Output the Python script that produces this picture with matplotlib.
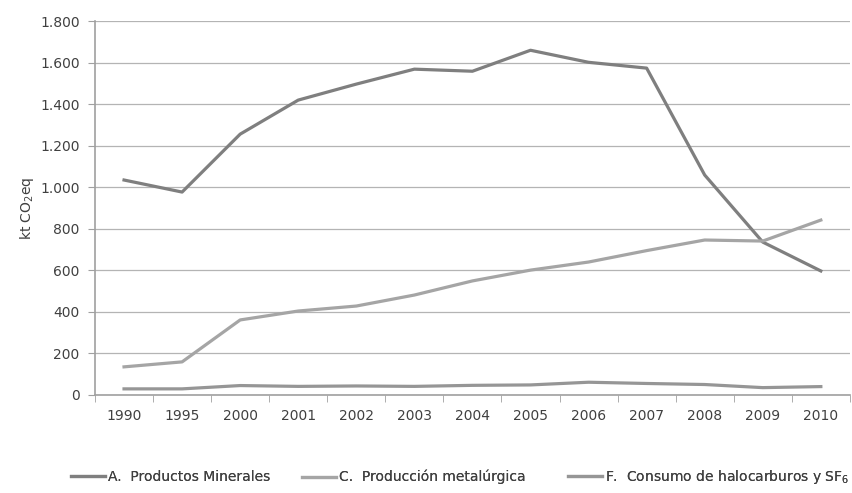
import matplotlib.pyplot as plt
from matplotlib.ticker import FuncFormatter

# Datos - emisiones del sector procesos industriales (kt CO2eq)
years = ['1990', '1995', '2000', '2001', '2002', '2003', '2004',
         '2005', '2006', '2007', '2008', '2009', '2010']
minerales = [1035, 977, 1256, 1420, 1497, 1569, 1559, 1660, 1602, 1574, 1059, 736, 597]
metalurgica = [135, 159, 361, 404, 428, 481, 549, 601, 640, 695, 746, 741, 842]
halocarburos = [29, 29, 45, 41, 43, 41, 46, 48, 61, 55, 50, 35, 40]

labels = ['A.  Productos Minerales', 'C.  Producción metalúrgica',
          'F.  Consumo de halocarburos y SF$_6$']
colors = ['#7f7f7f', '#a5a5a5', '#969696']

fig = plt.figure(figsize=(8.52, 4.93), dpi=100)
ax = fig.add_axes([0.1115, 0.199, 0.886, 0.758])

x = range(len(years))
lines = []
for serie, lab, col in zip([minerales, metalurgica, halocarburos], labels, colors):
    ln, = ax.plot(x, serie, color=col, linewidth=2.3, label=lab)
    lines.append(ln)

ax.set_xlim(-0.5, len(years) - 0.5)
ax.set_ylim(0, 1800)
ax.set_yticks(range(0, 1801, 200))
ax.yaxis.set_major_formatter(FuncFormatter(lambda v, p: f'{int(v):,}'.replace(',', '.')))
ax.set_xticks(list(x))
ax.set_xticklabels(years)
ax.set_xticks([i - 0.5 for i in range(len(years) + 1)], minor=True)
ax.tick_params(axis='x', which='major', length=0, pad=10, labelsize=10, colors='#404040')
ax.tick_params(axis='x', which='minor', length=5, color='#a0a0a0')
ax.tick_params(axis='y', length=5, color='#a0a0a0', labelsize=10, labelcolor='#404040', pad=6)

ax.grid(axis='y', color='#b4b4b4', linewidth=0.9)
ax.set_axisbelow(True)
for s in ['top', 'right']:
    ax.spines[s].set_visible(False)
for s in ['left', 'bottom']:
    ax.spines[s].set_color('#a0a0a0')
    ax.spines[s].set_linewidth(1.2)

ax.set_ylabel('kt CO$_2$eq', fontsize=10, color='#404040', labelpad=3)

# Leyenda: una entrada por posición, como en el original
for ln, xpos in zip(lines, [0.083, 0.355, 0.667]):
    leg = fig.legend([ln], [ln.get_label()], loc='center left', bbox_to_anchor=(xpos, 0.032),
                     frameon=False, fontsize=10, handlelength=2.45, handletextpad=0.2,
                     borderaxespad=0, borderpad=0, labelcolor='#404040')
    fig.add_artist(leg)

plt.savefig('out.png', dpi=100)
